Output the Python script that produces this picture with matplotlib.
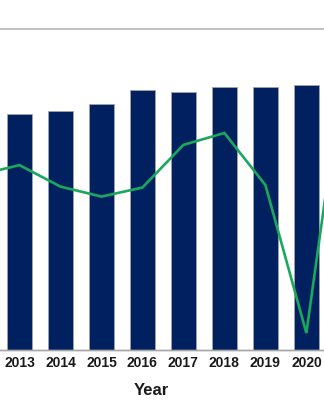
import matplotlib.pyplot as plt

# Values (arbitrary units, 0-100 scale)
years = [2013, 2014, 2015, 2016, 2017, 2018, 2019, 2020]
bar_values = [73.5, 74.5, 76.7, 80.9, 80.3, 81.8, 81.8, 82.6]

line_years = [2012, 2013, 2014, 2015, 2016, 2017, 2018, 2019, 2020, 2021]
line_values = [54.5, 57.6, 50.9, 47.8, 50.6, 63.9, 67.6, 51.4, 5.3, 97.0]

bar_color = '#002060'
line_color = '#1AA85C'

plt.rcParams['font.family'] = ['Liberation Sans', 'DejaVu Sans']

fig = plt.figure(figsize=(3.24, 4.0), dpi=100)
ax = fig.add_axes([0.0, 0.125, 1.0, 0.8025])

ax.bar(years, bar_values, width=0.62, color=bar_color,
       edgecolor='#A6A6A6', linewidth=0.5, zorder=2)
ax.set_xlim(2012.525, 2020.43)
ax.set_ylim(0, 100)

ax2 = ax.twinx()
ax2.plot(line_years, line_values, color=line_color, linewidth=1.9,
         solid_joinstyle='miter')
ax2.set_ylim(0, 100)

for a in (ax, ax2):
    a.set_yticks([])
    a.spines['left'].set_visible(False)
    a.spines['right'].set_visible(False)
    a.spines['top'].set_color('#BFBFBF')
    a.spines['top'].set_linewidth(1.2)
    a.spines['bottom'].set_color('#A6A6A6')
    a.spines['bottom'].set_linewidth(1.0)

ax.set_xticks(years)
ax.set_xticklabels([str(y) for y in years], fontweight='bold', fontsize=10,
                   color='#1A1A1A')
ax.tick_params(axis='x', length=0, pad=4.5)

ax.set_xlabel('Year', fontweight='bold', fontsize=12, color='#1A1A1A')
ax.xaxis.set_label_coords(0.468, -0.127)
ax.xaxis.label.set_va('center')

fig.savefig('out.png', dpi=100)
